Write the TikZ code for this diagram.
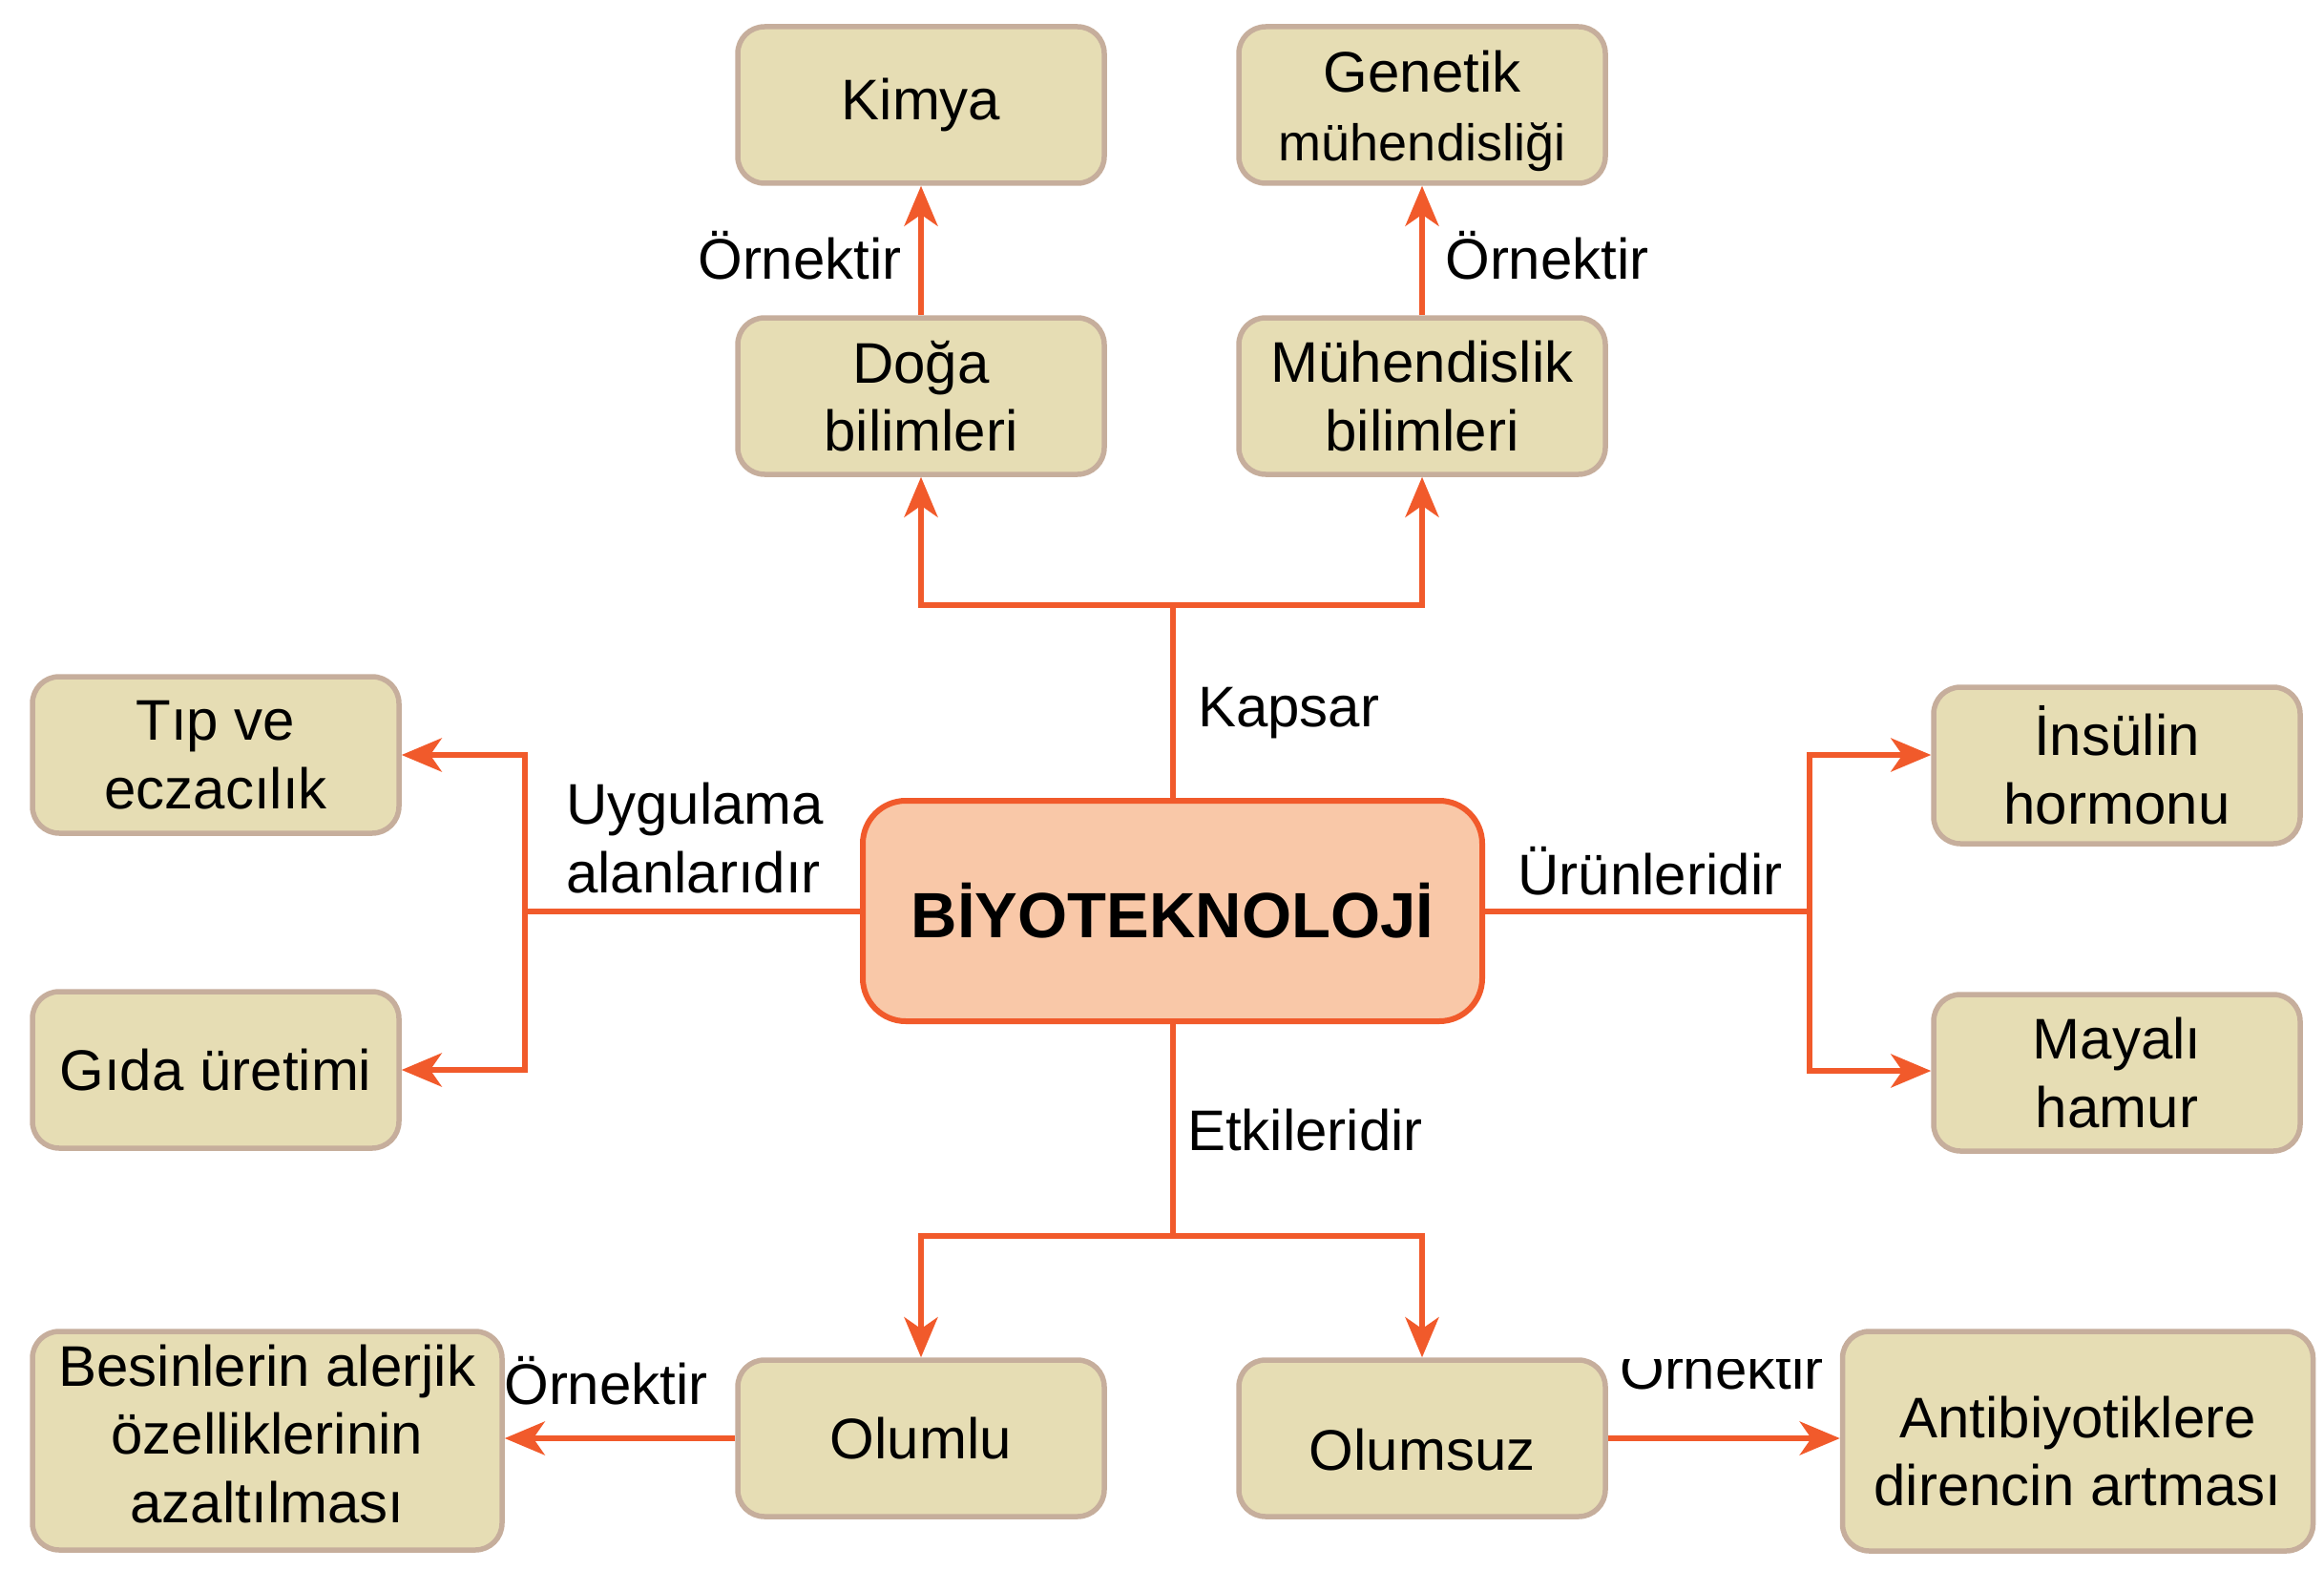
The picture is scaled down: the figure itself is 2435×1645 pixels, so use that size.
\documentclass[tikz,border=0pt]{standalone}
\usepackage{fontspec}
\setmainfont{Liberation Sans}
\usetikzlibrary{arrows.meta}
\definecolor{boxfill}{HTML}{E6DDB4}
\definecolor{boxline}{HTML}{C6AE9C}
\definecolor{corefill}{HTML}{F9C8A8}
\definecolor{orng}{HTML}{F15A2B}
\begin{document}
\begin{tikzpicture}[x=1pt,y=-1pt,
  cbox/.style={draw=boxline, fill=boxfill, line width=5.5pt, rounded corners=28pt,
    minimum width=384pt, minimum height=164pt, inner sep=0pt, align=center,
    font=\fontsize{60}{71.5}\selectfont},
  core/.style={draw=orng, fill=corefill, line width=6pt, rounded corners=45pt,
    minimum width=649pt, minimum height=231pt, inner sep=0pt,
    font=\fontsize{67}{80}\selectfont\bfseries},
  lbl/.style={inner sep=0pt, font=\fontsize{60}{71.5}\selectfont},
  lnk/.style={draw=orng, line width=6pt},
  arw/.style={-{Stealth[length=42pt,width=35pt,inset=12pt]}}]
\useasboundingbox (0,0) rectangle (2435,1645);

% nodes
\node[cbox] (kimya) at (965,110) {Kimya};
\node[cbox] (genetik) at (1490,110) {\rule{0pt}{56pt}Genetik\\{\fontsize{54}{71.5}\selectfont mühendisliği}};
\node[cbox] (doga) at (965,415) {Doğa\\bilimleri};
\node[cbox] (muh) at (1490,415) {Mühendislik\\bilimleri};
\node[core] (bio) at (1228.5,954.5) {BİYOTEKNOLOJİ};
\node[cbox] (tip) at (226,791) {Tıp ve\\eczacılık};
\node[cbox] (gida) at (226,1121) {Gıda üretimi};
\node[cbox] (ins) at (2218,802) {İnsülin\\hormonu};
\node[cbox] (maya) at (2218,1124) {Mayalı\\hamur};
\node[cbox] (olumlu) at (965,1507) {Olumlu};
\node[cbox] (olumsuz) at (1490,1507) {\rule{0pt}{68pt}Olumsuz};
\node[cbox, minimum width=492pt, minimum height=229pt] (besin) at (280,1509.5)
  {\begin{tabular}{@{}c@{}}Besinlerin alerjik\\özelliklerinin\\azaltılması\end{tabular}};
\node[cbox, minimum width=493pt, minimum height=230pt] (anti) at (2177,1510)
  {\begin{tabular}{@{}c@{}}\rule{0pt}{85pt}Antibiyotiklere\\direncin artması\end{tabular}};

% labels
\node[lbl, anchor=base] (orn1) at (838,292) {Örnektir};
\node[lbl, anchor=base] (orn2) at (1621,292) {Örnektir};
\node[lbl, anchor=base west] (kapsar) at (1255,761) {Kapsar};
\node[lbl, anchor=west, align=left] (uyg) at (593,878) {Uygulama\\alanlarıdır};
\node[lbl, anchor=base] (urun) at (1729,937) {Ürünleridir};
\node[lbl, anchor=base west] (etki) at (1244,1205) {Etkileridir};
\node[lbl, anchor=base] (orn3) at (635,1471) {Örnektir};
\begin{scope}
  \clip (1680,1424) rectangle (1930,1490);
  \node[lbl, anchor=base] (orn4) at (1804,1455) {Örnektir};
\end{scope}

% junctions
\coordinate (ju) at (1228.5,634);
\coordinate (jd) at (1228.5,1295);
\coordinate (jl) at (550,954.5);
\coordinate (jr) at (1896,954.5);
\coordinate (jri) at (1896,791);
\coordinate (jrm) at (1896,1122);

% connectors
\draw[lnk] (bio.north) -- (ju);
\draw[lnk,arw] (ju) -| (doga.south);
\draw[lnk,arw] (ju) -| (muh.south);
\draw[lnk,arw] (doga.north) -- (kimya.south);
\draw[lnk,arw] (muh.north) -- (genetik.south);

\draw[lnk] (bio.west) -- (jl);
\draw[lnk,arw] (jl) |- (tip.east);
\draw[lnk,arw] (jl) |- (gida.east);

\draw[lnk] (bio.east) -- (jr);
\draw[lnk,arw] (jr) -- (jri) -- (jri -| ins.west);
\draw[lnk,arw] (jr) -- (jrm) -- (jrm -| maya.west);

\draw[lnk] (bio.south) -- (jd);
\draw[lnk,arw] (jd) -| (olumlu.north);
\draw[lnk,arw] (jd) -| (olumsuz.north);

\draw[lnk,arw] (olumlu.west) -- (olumlu.west -| besin.east);
\draw[lnk,arw] (olumsuz.east) -- (olumsuz.east -| anti.west);
\end{tikzpicture}
\end{document}
